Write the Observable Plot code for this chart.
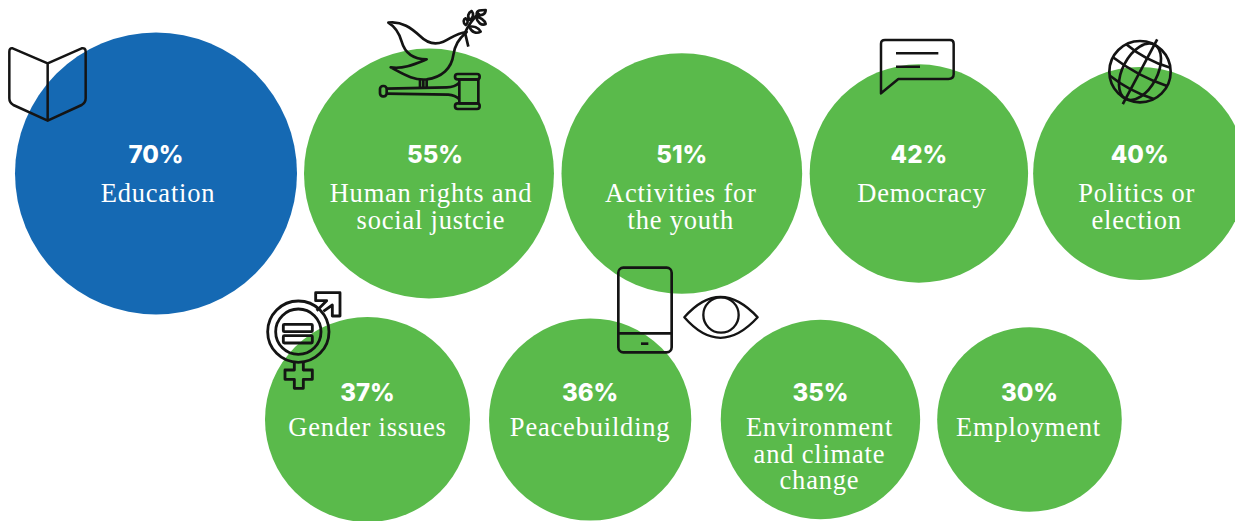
<!DOCTYPE html>
<html><head><meta charset="utf-8">
<script src="https://cdn.jsdelivr.net/npm/d3@7"></script>
<script src="https://cdn.jsdelivr.net/npm/@observablehq/plot@0.6"></script>
<style>html,body{margin:0;padding:0;background:#fff;overflow:hidden}svg{display:block}.topic-label text{letter-spacing:.8px}</style>
</head><body>
<script>
const topics = ["Education","Human rights and\nsocial justcie","Activities for\nthe youth","Democracy","Politics or\nelection","Gender issues","Peacebuilding","Environment\nand climate\nchange","Employment"];
const shares = [70,55,51,42,40,37,36,35,30];
const rows = ["upper","upper","upper","upper","upper","lower","lower","lower","lower"];
const highlighted = ["Education"];

// layout (kept apart from the data)
const W = 1235, H = 521;
const maxR = 141;
const radius = d3.scaleSqrt().domain([0,70]).range([0,maxR]);
const rowStart = {upper:14.5, lower:264.5};
const gapsAfter = [7,7.5,7.5,5,0,19,29.5,17,0];
const pctNudge = [0,6,0,0,0,0,0,0,0];
const labelNudge = [2,2,-1,3,-3,0,0,-1,-1];
const cursor = {};
const data = topics.map((topic,i)=>{
  const r = radius(shares[i]), row = rows[i];
  const left = cursor[row] ?? rowStart[row];
  cursor[row] = left + 2*r + gapsAfter[i];
  return {topic, share:shares[i], row, cx:left+r, px:left+r+pctNudge[i], lx:left+r+labelNudge[i]};
});

const ink = "#141414";
const icons = [
 {at:[0,0], k:3, sw:7.5, svg:`<path d="M38,145 L143,190 L143,362 L40,315 Q28,308 28,295 V155 Q28,143 38,145Z M143,190 L245,145 Q257,143 257,155 V295 Q257,308 245,315 L143,362"/>`},
 {at:[370,0], k:3, sw:8, svg:`<path d="M55,68 C95,62 125,85 150,108 C170,128 195,135 220,125 C240,118 255,100 290,96 C265,118 255,135 250,165 C245,205 215,232 170,238 C130,242 100,222 62,202 C100,208 135,192 170,178 C130,178 105,160 95,125 C88,100 75,80 55,68Z"/>
  <path d="M150,238V265M160,238V265M170,238V265"/>
  <path d="M295,140 L285,98 C295,75 310,55 328,38"/>
  <path d="M300,60 C290,50 295,38 305,33 C312,42 310,52 300,60Z M320,42 C320,30 332,30 347,30 C347,42 335,50 320,42Z M318,50 C330,52 345,60 347,72 C335,78 322,68 318,50Z M287,75 C278,68 280,58 287,55 C295,60 295,70 287,75Z M298,80 C310,78 325,82 332,95 C320,102 305,98 298,80Z"/>
  <rect x="30" y="258" width="20" height="31" rx="9"/>
  <path d="M50,266 L230,262 Q255,262 268,248 M50,281 L235,284 Q255,285 268,298"/>
  <path d="M268,238 H325 V310 H268Z"/>
  <rect x="255" y="222" width="74" height="16" rx="8"/><rect x="255" y="310" width="74" height="17" rx="8"/>`},
 {at:[870,25], k:3, sw:7.5, svg:`<path d="M45,45 H240 Q251,45 251,56 V148 Q251,162 235,162 H85 L33,205 V56 Q33,45 45,45Z"/><path d="M78,85H205M78,125H150"/>`},
 {at:[1095,30], k:3, sw:8, svg:`<circle cx="135" cy="125" r="92"/><g transform="rotate(28 135 125)"><path d="M135,15V235"/><ellipse cx="135" cy="125" rx="52" ry="92"/><path d="M60,72 Q135,88 210,72 M43,125 Q135,140 227,125 M60,178 Q135,192 210,178"/></g>`},
 {at:[255,280], k:3, sw:8.5, svg:`<circle cx="130" cy="155" r="92"/><circle cx="130" cy="155" r="68"/>
  <path d="M205,94 L232,75 V108 H255 V38 H182 V62 H215 L185,92"/>
  <rect x="85" y="133" width="87" height="22" rx="3"/><rect x="85" y="167" width="87" height="22" rx="3"/>
  <path d="M118,245 V270 H90 V298 H118 V325 H145 V298 H172 V270 H145 V245"/>`},
 {at:[605,255], k:3, sw:8, svg:`<rect x="40" y="38" width="160" height="254" rx="15"/><path d="M40,235H200"/><path d="M108,266H130" stroke-width="8"/>`},
 {at:[605,255], k:3, sw:7, svg:`<path d="M238,187 Q345,65 458,187 Q345,310 238,187Z"/><circle cx="348" cy="180" r="53"/>`}
];

function iconMark(index, {x,y}){
  const g = d3.create("svg:g").attr("fill","none").attr("stroke",ink).attr("stroke-linejoin","round").attr("stroke-linecap","butt");
  for(const ic of icons){
    g.append("g").attr("transform",`translate(${x(ic.at[0])},${ic.at[1]}) scale(${1/ic.k})`)
     .attr("stroke-width",ic.sw).html(ic.svg);
  }
  return g.node();
}

const rowDy = {
 upper:{pct:-18, label:10},
 lower:{pct:-26, label:-2}
};
const labelFont = {fontFamily:"'Liberation Serif',serif", fontSize:26.5, fill:"#fff", lineHeight:1, lineAnchor:"top"};
const textMarks = ["upper","lower"].flatMap(row=>{
  const d = data.filter(v=>v.row===row);
  return [
    Plot.text(d,{x:"px",y:"row",text:v=>v.share+"%",dy:rowDy[row].pct,fontFamily:"Inter,sans-serif",fontWeight:800,fontSize:24,fill:"#fff"}),
    Plot.text(d,{x:"lx",y:"row",text:"topic",dy:rowDy[row].label,...labelFont,className:"topic-label"})
  ];
});

const chart = Plot.plot({
  width:W,height:H,margin:0,
  style:{background:"#fff",overflow:"hidden"},
  x:{domain:[0,W],range:[0,W],axis:null},
  y:{type:"point",domain:["upper","lower"],range:[173,419],padding:0,axis:null},
  r:{type:"sqrt",domain:[0,70],range:[0,maxR]},
  marks:[
    Plot.dot(data,{x:"cx",y:"row",r:"share",fill:v=>highlighted.includes(v.topic)?"#1569b3":"#5aba4b"}),
    iconMark,
    ...textMarks
  ]
});
document.body.append(chart);
</script>
</body></html>
